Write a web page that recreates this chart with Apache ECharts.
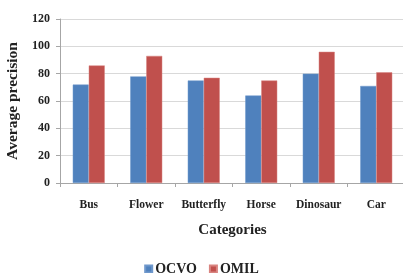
<!DOCTYPE html>
<html>
<head>
<meta charset="utf-8">
<script src="https://cdn.jsdelivr.net/npm/echarts@6/dist/echarts.min.js"></script>
<style>
html,body{margin:0;padding:0;background:#fff;}
#main{width:403px;height:273px;}
</style>
</head>
<body>
<div id="main"></div>
<script>
var categories = ['Bus', 'Flower', 'Butterfly', 'Horse', 'Dinosaur', 'Car'];
var ocvoValues = [72, 78, 75, 64, 80, 71];
var omilValues = [86, 93, 77, 75, 96, 81];
var yTicks = [0, 20, 40, 60, 80, 100, 120];

var serif = '"Liberation Serif", "DejaVu Serif", serif';

var myChart = echarts.init(document.getElementById('main'));
var option = {
    animation: false,
    color: ['#4F81BD', '#C0504D'],
    textStyle: {fontFamily: serif},
    grid: {
        left: 60,
        right: -2,
        top: 19,
        bottom: 90,
        outerBoundsMode: 'none'
    },
    legend: {
        top: 257,
        left: 'center',
        itemWidth: 7,
        itemHeight: 7,
        itemGap: 12,
        icon: 'rect',
        textStyle: {fontFamily: serif, fontWeight: 'bold', fontSize: 14, color: '#222', padding: [0, 0, 0, -2]},
        data: ['OCVO', 'OMIL']
    },
    xAxis: [
        {
            type: 'category',
            data: categories,
            name: 'Categories',
            nameLocation: 'middle',
            nameGap: 40,
            nameTextStyle: {fontFamily: serif, fontWeight: 'bold', fontSize: 15, color: '#222'},
            axisLine: {lineStyle: {color: '#a6a6a6'}},
            axisTick: {show: true, length: 4, lineStyle: {color: '#a6a6a6'}},
            axisLabel: {
                interval: 0,
                hideOverlap: false,
                margin: 16,
                fontFamily: serif, fontWeight: 'bold', fontSize: 11.5, color: '#222'
            }
        }
    ],
    yAxis: [
        {
            type: 'value',
            min: yTicks[0],
            max: yTicks[yTicks.length - 1],
            interval: 20,
            name: 'Average precision',
            nameLocation: 'middle',
            nameGap: 32,
            nameTextStyle: {fontFamily: serif, fontWeight: 'bold', fontSize: 15.5, color: '#222'},
            axisLine: {show: true, lineStyle: {color: '#a6a6a6'}},
            axisTick: {show: true, length: 4, lineStyle: {color: '#a6a6a6'}},
            splitLine: {show: true, lineStyle: {color: '#d9d9d9', width: 1}},
            axisLabel: {
                margin: 10,
                fontFamily: serif, fontWeight: 'bold', fontSize: 12, color: '#222'
            }
        }
    ],
    series: [
        {
            name: 'OCVO',
            type: 'bar',
            barWidth: 16,
            barGap: '0%',
            data: ocvoValues,
            itemStyle: {borderColor: '#6f98cc', borderWidth: 0.5}
        },
        {
            name: 'OMIL',
            type: 'bar',
            barWidth: 16,
            data: omilValues,
            itemStyle: {borderColor: '#d98480', borderWidth: 0.5}
        }
    ]
};

if (option && typeof option === "object") {
    myChart.setOption(option, true);
}
</script>
</body>
</html>
